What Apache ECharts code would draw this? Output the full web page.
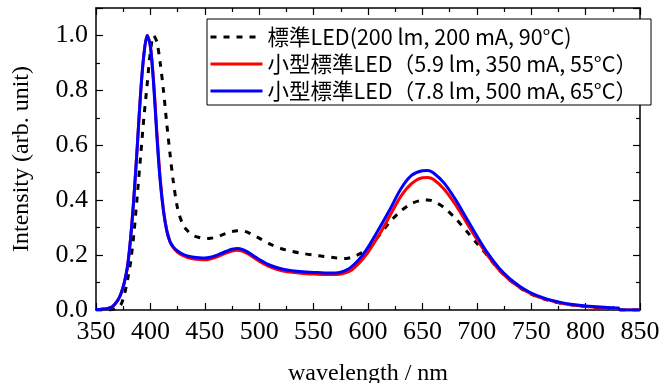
<!DOCTYPE html>
<html>
<head>
<meta charset="utf-8">
<script src="https://cdn.jsdelivr.net/npm/echarts@6/dist/echarts.min.js"></script>
<style>
html,body{margin:0;padding:0;background:#fff;}
#chart{width:671px;height:383px;}
</style>
</head>
<body>
<div id="chart"></div>
<script>
// wavelength (nm), shared by all three spectra
var wavelength = [350,355,360,365,370,373,376,379,382,385,388,391,394,397,400,403,406,409,412,415,418,421,
    425,430,435,440,445,450,455,460,465,470,475,480,485,490,495,500,510,520,530,540,550,560,570,
    575,580,585,590,595,600,610,620,630,640,650,655,660,670,680,690,700,710,720,730,740,750,760,
    770,780,790,800,810,820,830,832,850];

// 標準LED (200 lm, 200 mA, 90°C)
var stdLed = [0,0,0,0.002,0.008,0.02,0.055,0.11,0.18,0.285,0.42,0.56,0.7,0.82,0.94,1.0,0.975,0.9,0.8,0.68,0.57,0.47,
    0.37,0.31,0.285,0.27,0.264,0.26,0.261,0.265,0.272,0.28,0.286,0.289,0.288,0.282,0.272,0.262,0.24,0.224,0.214,0.206,0.2,0.195,0.19,
    0.188,0.188,0.192,0.2,0.21,0.225,0.27,0.32,0.36,0.388,0.4,0.401,0.396,0.373,0.335,0.29,0.243,0.197,0.148,0.11,0.08,0.058,0.042,
    0.031,0.023,0.017,0.013,0.009,0.006,0.004,0,0];

// 小型標準LED (5.9 lm, 350 mA, 55°C)
var smallLed350 = [0.002,0.003,0.005,0.012,0.035,0.06,0.1,0.16,0.27,0.42,0.6,0.79,0.93,1.0,0.96,0.83,0.645,0.48,0.365,0.29,0.248,0.227,
    0.21,0.198,0.19,0.186,0.184,0.183,0.186,0.192,0.2,0.208,0.215,0.218,0.214,0.204,0.191,0.178,0.157,0.144,0.137,0.133,0.131,0.129,0.129,
    0.131,0.136,0.146,0.163,0.185,0.21,0.272,0.342,0.413,0.46,0.482,0.483,0.476,0.44,0.386,0.322,0.258,0.198,0.148,0.11,0.081,0.059,0.043,
    0.032,0.023,0.017,0.013,0.01,0.007,0.005,0,0];

// 小型標準LED (7.8 lm, 500 mA, 65°C)
var smallLed500 = [0.002,0.003,0.005,0.012,0.035,0.06,0.1,0.16,0.27,0.42,0.6,0.79,0.93,1.0,0.96,0.82,0.63,0.47,0.36,0.29,0.25,0.23,
    0.215,0.203,0.196,0.192,0.19,0.189,0.192,0.198,0.206,0.214,0.221,0.224,0.22,0.21,0.197,0.184,0.163,0.15,0.143,0.139,0.137,0.135,0.135,
    0.138,0.145,0.158,0.177,0.2,0.228,0.295,0.365,0.44,0.49,0.507,0.508,0.5,0.462,0.405,0.338,0.27,0.207,0.155,0.115,0.085,0.062,0.046,
    0.034,0.025,0.019,0.015,0.012,0.009,0.007,0,0];

var seriesNames = ['標準LED(200 lm, 200 mA, 90°C)', '小型標準LED（5.9 lm, 350 mA, 55°C）', '小型標準LED（7.8 lm, 500 mA, 65°C）'];

function pairs(ys) {
    var out = [];
    for (var i = 0; i < wavelength.length; i++) {
        out.push([wavelength[i], ys[i]]);
    }
    return out;
}

var serif = 'Liberation Serif';
var axisLine = {show: true, onZero: false, lineStyle: {color: '#000', width: 1.5}};
var tick = {show: true, inside: true, length: 7, lineStyle: {color: '#000', width: 1.2}};
var minor = {show: true, splitNumber: 2, length: 4, lineStyle: {color: '#000', width: 1.2}};

var myChart = echarts.init(document.getElementById('chart'));
var option = {
    animation: false,
    backgroundColor: '#fff',
    grid: {left: 96, right: 31, top: 8, bottom: 73, containLabel: false, outerBoundsMode: 'none'},
    legend: {
        orient: 'vertical',
        left: 207,
        top: 19,
        itemWidth: 52,
        itemHeight: 14,
        itemGap: 5,
        padding: [7, 14, 3, 2],
        backgroundColor: '#fff',
        borderColor: '#000',
        borderWidth: 1,
        itemStyle: {opacity: 0},
        lineStyle: {width: 3},
        textStyle: {fontFamily: 'Noto Sans CJK JP', fontSize: 21.5, color: '#000', lineHeight: 22},
        data: seriesNames
    },
    xAxis: [{
        type: 'value', min: 350, max: 850, interval: 50, position: 'bottom',
        name: 'wavelength / nm', nameLocation: 'middle', nameGap: 52,
        nameTextStyle: {fontFamily: serif, fontSize: 24, color: '#000'},
        axisLine: axisLine, axisTick: tick, minorTick: minor,
        axisLabel: {fontFamily: serif, fontSize: 26, color: '#000', margin: 9},
        splitLine: {show: false}
    }, {
        type: 'value', min: 350, max: 850, interval: 50, position: 'top',
        axisLine: axisLine, axisTick: tick, minorTick: minor,
        axisLabel: {show: false}, splitLine: {show: false}
    }],
    yAxis: [{
        type: 'value', min: 0, max: 1.1, interval: 0.2, position: 'left',
        name: 'Intensity (arb. unit)', nameLocation: 'middle', nameGap: 62, nameRotate: 90,
        nameTextStyle: {fontFamily: serif, fontSize: 24, color: '#000'},
        axisLine: axisLine, axisTick: tick, minorTick: minor,
        axisLabel: {fontFamily: serif, fontSize: 26, color: '#000', margin: 8, showMaxLabel: false,
            formatter: function (v) { return v.toFixed(1); }},
        splitLine: {show: false}
    }, {
        type: 'value', min: 0, max: 1.1, interval: 0.2, position: 'right',
        axisLine: axisLine, axisTick: tick, minorTick: minor,
        axisLabel: {show: false}, splitLine: {show: false}
    }],
    series: [{
        name: seriesNames[0], type: 'line', data: pairs(stdLed),
        smooth: 0.3, symbol: 'none', color: '#000',
        lineStyle: {color: '#000', width: 3, type: [6, 7]}
    }, {
        name: seriesNames[1], type: 'line', data: pairs(smallLed350),
        smooth: 0.3, symbol: 'none', color: '#ff0000',
        lineStyle: {color: '#ff0000', width: 3}
    }, {
        name: seriesNames[2], type: 'line', data: pairs(smallLed500),
        smooth: 0.3, symbol: 'none', color: '#0000ff',
        lineStyle: {color: '#0000ff', width: 3}
    }]
};
myChart.setOption(option);
</script>
</body>
</html>
